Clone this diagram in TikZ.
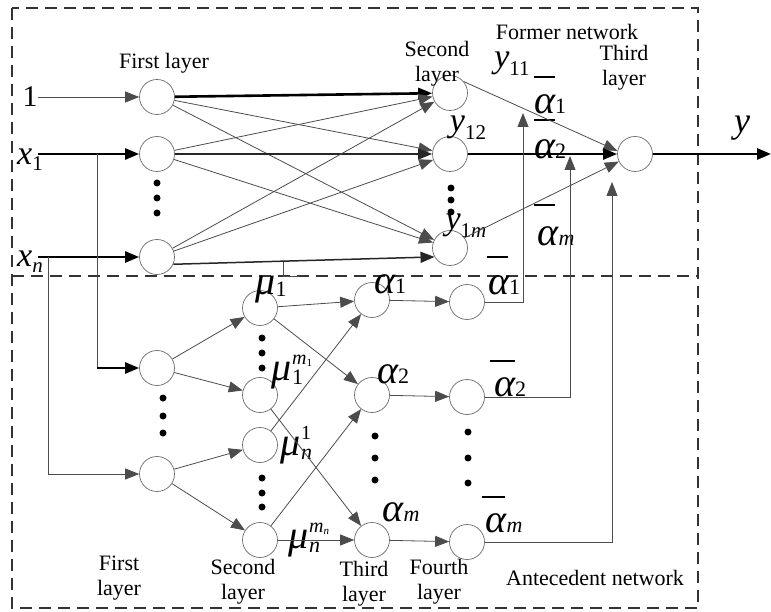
\documentclass[tikz,border=0pt]{standalone}
\usepackage{fontspec}
\setmainfont{Liberation Serif}
\usetikzlibrary{arrows.meta}
\newcommand{\Sym}[3][4pt]{{\fontsize{34}{34}\selectfont\itshape #2}\raisebox{-#1}{\fontsize{21}{21}\selectfont #3}}
\newcommand{\Gsym}[3][0pt]{{\fontsize{40}{40}\selectfont\itshape #2}\raisebox{-#1}{\fontsize{22}{22}\selectfont #3}}
\newcommand{\GsymB}[3]{{\fontsize{40}{40}\selectfont\itshape #1}\rlap{\raisebox{-4pt}{\fontsize{22}{22}\selectfont #2}}\raisebox{16pt}{\fontsize{20}{20}\selectfont #3}}
\newcommand{\msub}[1]{\textit{m}\raisebox{-2pt}{\fontsize{11}{11}\selectfont #1}}
\begin{document}
\begin{tikzpicture}[x=1pt,y=-1pt,
  neuron/.style={circle, draw=gray!85!black, line width=0.7pt, minimum size=35pt, inner sep=0pt},
  thinln/.style={draw=gray!60!black, line width=0.8pt},
  thickln/.style={draw=black, line width=2.6pt},
  medln/.style={draw=black!85, line width=1.5pt},
  arr/.style={-{Triangle[length=14pt,width=11pt]}},
  dotc/.style={circle, fill=black, inner sep=0pt, minimum size=7pt},
  lbl/.style={font=\fontsize{22}{25}\selectfont, inner sep=0pt, align=center},
  sym/.style={inner sep=0pt},
  frame/.style={draw=black!80, line width=1.3pt, dash pattern=on 12pt off 7pt},
  barln/.style={draw=black, line width=1.6pt}
]
\useasboundingbox (0,0) rectangle (771,612);

% frames
\draw[frame] (12,8) rectangle (698,608);
\draw[frame] (12,276) -- (698,276);

% top network neurons
\node[neuron] (t1a) at (157,97) {};
\node[neuron] (t1b) at (157,154) {};
\node[neuron] (t1c) at (157,257) {};
\node[neuron] (t2a) at (450,93) {};
\node[neuron] (t2b) at (450,154) {};
\node[neuron] (t2c) at (450,248) {};
\node[neuron] (t3) at (635,154) {};

% lower network neurons
\node[neuron] (l1a) at (157,368) {};
\node[neuron] (l1b) at (157,474) {};
\node[neuron] (l2a) at (260,308) {};
\node[neuron] (l2b) at (260,395) {};
\node[neuron] (l2c) at (260,445) {};
\node[neuron] (l2d) at (260,540) {};
\node[neuron] (l3a) at (372,300) {};
\node[neuron] (l3b) at (372,395) {};
\node[neuron] (l3c) at (372,540) {};
\node[neuron] (l4a) at (467,302) {};
\node[neuron] (l4b) at (467,397) {};
\node[neuron] (l4c) at (467,542) {};

% dots
\foreach \i/\x/\y in {a/157/183, b/157/198, c/157/213,
  d/451/188, e/451/200, f/451/212,
  g/163/398, h/163/416, i/163/433,
  j/262/338, k/262/353, l/262/368,
  m/262/478, n/262/493, o/262/507,
  p/375/436, q/375/458, r/375/480,
  s/468/432, t/468/458, u/468/483}
  \node[dotc] (dot\i) at (\x,\y) {};

% input labels
\node[sym] (in1) at (30,97) {\fontsize{30}{30}\selectfont 1};
\node[sym] (inx1) at (30,160) {\Sym[6pt]{x}{1}};
\node[sym] (inxn) at (30,262) {\Sym[6pt]{x}{\textit{n}}};
\coordinate (x1s) at (38,154);
\coordinate (xns) at (38,257);
\coordinate (x1b) at (97,154);
\coordinate (xnb) at (48,257);

% text labels
\node[lbl] (lf1) at (164,63) {First layer};
\node[lbl] (lf2) at (437,64) {Second\\layer};
\node[lbl] (lfn) at (567,32) {Former network};
\node[lbl] (lf3) at (624,68) {Third\\layer};
\node[lbl] (la1) at (119,578) {First\\layer};
\node[lbl] (la2) at (243,582) {Second\\layer};
\node[lbl] (la3) at (364,584) {Third\\layer};
\node[lbl] (la4) at (439,582) {Fourth\\layer};
\node[lbl] (lan) at (595,578) {Antecedent network};

% symbol labels top
\node[sym] (ly11) at (512,64) {\Sym[8pt]{y}{11}};
\node[sym] (ly12) at (468,128) {\Sym[8pt]{y}{12}};
\node[sym] (ly1m) at (466,226) {\Sym[8pt]{y}{1\textit{m}}};
\node[sym] (lab1) at (550,104) {\Gsym{α}{1}};
\node[sym] (lab2) at (550,149) {\Gsym{α}{2}};
\node[sym] (labm) at (556,236) {\Gsym{α}{\textit{m}}};
\node[sym] (ly) at (742,128) {\fontsize{36}{36}\selectfont\itshape y};
\draw[barln] (534,77) -- (555,77);
\draw[barln] (534,120) -- (555,120);
\draw[barln] (534,205) -- (555,205);

% symbol labels lower
\node[sym] (lmu1) at (271,290) {\Gsym[2pt]{μ}{1}};
\node[sym] (lmu1m) at (292,372) {\GsymB{μ}{1}{\msub{1}}};
\node[sym] (lmun1) at (296,445) {\GsymB{μ}{\textit{n}}{1}};
\node[sym] (lmunm) at (309,540) {\GsymB{μ}{\textit{n}}{\msub{\textit{n}}}};
\node[sym] (lal1) at (390,284) {\Gsym{α}{1}};
\node[sym] (lal2) at (393,374) {\Gsym{α}{2}};
\node[sym] (lalm) at (401,512) {\Gsym{α}{\textit{m}}};
\node[sym] (lbl1) at (504,285) {\Gsym{α}{1}};
\node[sym] (lbl2) at (510,387) {\Gsym{α}{2}};
\node[sym] (lblm) at (504,523) {\Gsym{α}{\textit{m}}};
\draw[barln] (487,257) -- (508,257);
\draw[barln] (490,361) -- (515,361);
\draw[barln] (482,497) -- (505,497);

% inputs
\draw[thinln,arr] (in1.east) -- (t1a);
\draw[thickln,arr] (x1s) -- (t1b);
\draw[thickln,arr] (xns) -- (t1c);
\draw[thinln] (x1b) -- (x1b |- l1a);
\draw[thickln,arr] (x1b |- l1a) -- (l1a);
\draw[thinln] (xnb) -- (xnb |- l1b);
\draw[thinln,arr] (xnb |- l1b) -- (l1b);

% top first -> second
\draw[thickln,arr] (t1a) -- (t2a);
\draw[thinln,arr] (t1a) -- (t2b);
\draw[thinln,arr] (t1a) -- (t2c);
\draw[thinln,arr] (t1b) -- (t2a);
\draw[medln,arr] (t1b) -- (t2b);
\draw[thinln,arr] (t1b) -- (t2c);
\draw[thinln,arr] (t1c) -- (t2a);
\draw[thinln,arr] (t1c) -- (t2b);
\draw[medln,arr] (t1c.-24) -- (t2c.-150);
\draw[thinln] (283,262.5) -- (283,276) -- (300,276);

% top second -> third
\draw[thinln,arr] (t2a.40) -- (t3.170);
\draw[thickln,arr] (t2b) -- (t3);
\draw[thinln,arr] (t2c.35) -- (t3.205);
\coordinate (outp) at (771,154);
\draw[thickln,arr] (t3) -- (outp);

% lower network
\draw[thinln,arr] (l1a) -- (l2a);
\draw[thinln,arr] (l1a) -- (l2b);
\draw[thinln,arr] (l1b) -- (l2c);
\draw[thinln,arr] (l1b) -- (l2d);
\draw[thinln,arr] (l2a) -- (l3a);
\draw[thinln,arr] (l2a) -- (l3b);
\draw[thinln,arr] (l2b) -- (l3c);
\draw[thinln,arr] (l2c) -- (l3a);
\draw[thinln,arr] (l2d) -- (l3b);
\draw[thinln,arr] (l2d) -- (l3c);
\draw[thinln,arr] (l3a) -- (l4a);
\draw[thinln,arr] (l3b) -- (l4b);
\draw[thinln,arr] (l3c) -- (l4c);

% feedback to former network
\coordinate (f1) at (523,113);
\coordinate (f2) at (570,156);
\coordinate (f3) at (612,182);
\draw[thinln,arr] (l4a.east) -| (f1);
\draw[thinln,arr] (l4b.east) -| (f2);
\draw[thinln,arr] (l4c.east) -| (f3);
\end{tikzpicture}
\end{document}
